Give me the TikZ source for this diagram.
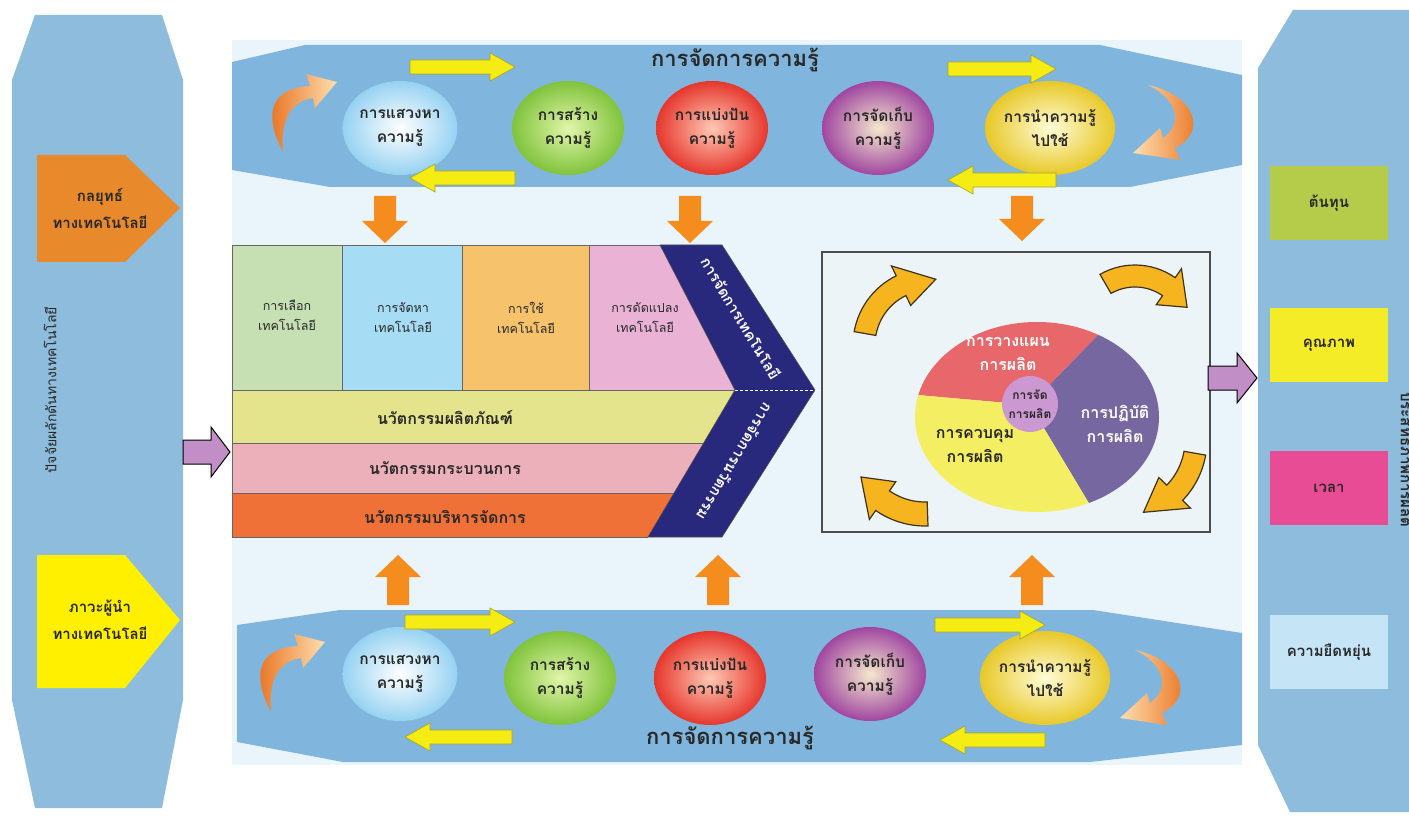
\documentclass[tikz,border=0pt]{standalone}
\usepackage{fontspec}
\newfontfamily\thaifont[Script=Thai]{Loma}
\usetikzlibrary{shapes.geometric,calc}

\definecolor{panelblue}{RGB}{142,188,221}
\definecolor{bandblue}{RGB}{128,182,221}
\definecolor{framebg}{RGB}{234,244,251}
\definecolor{txtdark}{RGB}{40,40,40}
\definecolor{strategyorange}{RGB}{232,137,43}
\definecolor{leaderyellow}{RGB}{255,240,0}
\definecolor{costgreen}{RGB}{181,204,74}
\definecolor{qualyellow}{RGB}{245,236,40}
\definecolor{timepink}{RGB}{232,76,148}
\definecolor{flexblue}{RGB}{197,228,246}
\definecolor{arrowyellow}{RGB}{245,236,20}
\definecolor{arrowyellowedge}{RGB}{170,160,40}
\definecolor{blockorange}{RGB}{245,140,30}
\definecolor{purplearrow}{RGB}{193,143,198}
\definecolor{navy}{RGB}{40,40,125}
\definecolor{selgreen}{RGB}{198,224,180}
\definecolor{acqblue}{RGB}{166,221,245}
\definecolor{useorange}{RGB}{246,195,108}
\definecolor{adaptpink}{RGB}{234,179,214}
\definecolor{prodrow}{RGB}{228,228,140}
\definecolor{procrow}{RGB}{236,176,186}
\definecolor{mgmtrow}{RGB}{240,113,56}
\definecolor{boxbg}{RGB}{237,244,247}
\definecolor{piered}{RGB}{232,103,106}
\definecolor{piepurple}{RGB}{118,103,160}
\definecolor{pieyellow}{RGB}{243,238,98}
\definecolor{piecenter}{RGB}{204,152,210}
\definecolor{turnfill}{RGB}{246,180,30}
\definecolor{turnedge}{RGB}{60,50,30}

\tikzset{
  kcircle/.style={ellipse, minimum width=112, minimum height=94, inner sep=0pt,
    align=center, text=txtdark, shading=radial,
    font=\thaifont\bfseries\fontsize{15.5}{24}\selectfont},
  yarrow/.style={fill=arrowyellow, draw=arrowyellowedge, line width=0.6},
  oarrow/.style={fill=blockorange},
  parrow/.style={fill=purplearrow, draw=black, line width=1},
  turn/.style={fill=turnfill, draw=turnedge, line width=1.2},
  techcell/.style={draw=black!60, line width=0.7},
  celltext/.style={align=center, text=txtdark, font=\thaifont\fontsize{12.5}{20}\selectfont},
  rowtext/.style={text=txtdark, font=\thaifont\bfseries\fontsize{16}{20}\selectfont},
  sidebox/.style={minimum width=118, minimum height=74, inner sep=0pt,
    text=txtdark, font=\thaifont\bfseries\fontsize{15}{20}\selectfont},
  pietext/.style={align=center, font=\thaifont\bfseries\fontsize{16}{24}\selectfont},
  title/.style={text=txtdark, font=\thaifont\bfseries\fontsize{22}{26}\selectfont}
}

% horizontal yellow arrows: x from, x to, y
\newcommand{\yelright}[3]{\filldraw[yarrow] (#1,{#3-7}) -- ({#2-25},{#3-7}) -- ({#2-25},{#3-14}) -- (#2,#3) -- ({#2-25},{#3+14}) -- ({#2-25},{#3+7}) -- (#1,{#3+7}) -- cycle;}
\newcommand{\yelleft}[3]{\filldraw[yarrow] (#2,{#3-7}) -- ({#1+25},{#3-7}) -- ({#1+25},{#3-14}) -- (#1,#3) -- ({#1+25},{#3+14}) -- ({#1+25},{#3+7}) -- (#2,{#3+7}) -- cycle;}
% vertical orange block arrows: x, tail y, head y
\newcommand{\orgdown}[3]{\fill[oarrow] ({#1-11},#2) -- ({#1+11},#2) -- ({#1+11},{#3-22}) -- ({#1+23},{#3-22}) -- (#1,#3) -- ({#1-23},{#3-22}) -- ({#1-11},{#3-22}) -- cycle;}
\newcommand{\orgup}[3]{\fill[oarrow] ({#1-11},#2) -- ({#1+11},#2) -- ({#1+11},{#3+22}) -- ({#1+23},{#3+22}) -- (#1,#3) -- ({#1-23},{#3+22}) -- ({#1-11},{#3+22}) -- cycle;}
% curved cycle arrow: cx, cy, inner r, outer r, start, end, tip angle
\newcommand{\turnarrow}[7]{\filldraw[turn]
  plot[variable=\t, domain=#5:#6, samples=16] ({#1+#4*cos(\t)},{#2+#4*sin(\t)})
  -- ({#1+(#4+11)*cos(#6)},{#2+(#4+11)*sin(#6)})
  -- ({#1+(#3+#4)/2*cos(#7)},{#2+(#3+#4)/2*sin(#7)})
  -- ({#1+(#3-11)*cos(#6)},{#2+(#3-11)*sin(#6)})
  -- plot[variable=\t, domain=#6:#5, samples=16] ({#1+#3*cos(\t)},{#2+#3*sin(\t)})
  -- cycle;}

\begin{document}
\begin{tikzpicture}[x=1pt,y=-1pt]
\useasboundingbox (0,0) rectangle (1409,821);
\fill[white] (0,0) rectangle (1409,821);

% ---------- left panel: driving factors ----------
\fill[panelblue] (35,15) -- (162,15) -- (183,80) -- (183,700) -- (162,808) -- (35,808) -- (12,700) -- (12,80) -- cycle;
\fill[strategyorange] (37,155) -- (125,155) -- (180,208) -- (125,262) -- (37,262) -- cycle;
\node[align=center, text=txtdark, font=\thaifont\bfseries\fontsize{15}{27}\selectfont] (strategy) at (100,208) {กลยุทธ์\\ทางเทคโนโลยี};
\fill[leaderyellow] (37,555) -- (125,555) -- (180,620) -- (125,688) -- (37,688) -- cycle;
\node[align=center, text=txtdark, font=\thaifont\bfseries\fontsize{15}{27}\selectfont] (leader) at (100,620) {ภาวะผู้นำ\\ทางเทคโนโลยี};
\node[rotate=90, text=txtdark, font=\thaifont\fontsize{14}{16}\selectfont] (drivers) at (50,390) {ปัจจัยผลักดันทางเทคโนโลยี};

% ---------- central frame ----------
\fill[framebg] (232,40) rectangle (1242,765);

% top knowledge band
\fill[bandblue] (232,62) -- (305,45) -- (1100,45) -- (1242,75) -- (1242,165) -- (1130,187) -- (330,187) -- (232,170) -- cycle;
% bottom knowledge band
\fill[bandblue] (237,625) -- (340,610) -- (1093,610) -- (1242,633) -- (1242,745) -- (1090,762) -- (343,762) -- (237,742) -- cycle;

% knowledge circles (top)
\node[kcircle, inner color=white, outer color={rgb,255:red,150;green,210;blue,242}] (ta) at (400,128) {การแสวงหา\\ความรู้};
\node[kcircle, inner color={rgb,255:red,225;green,245;blue,170}, outer color={rgb,255:red,128;green,195;blue,60}] (tb) at (568,128) {การสร้าง\\ความรู้};
\node[kcircle, inner color={rgb,255:red,255;green,200;blue,180}, outer color={rgb,255:red,230;green,55;blue,45}] (tc) at (712,128) {การแบ่งปัน\\ความรู้};
\node[kcircle, inner color={rgb,255:red,245;green,232;blue,205}, outer color={rgb,255:red,160;green,70;blue,160}] (td) at (878,128) {การจัดเก็บ\\ความรู้};
\node[kcircle, inner color={rgb,255:red,255;green,252;blue,215}, outer color={rgb,255:red,232;green,200;blue,40}] (te) at (1050,128) {การนำความรู้\\ไปใช้};
\node[title] (ttitle) at (735,60) {การจัดการความรู้};

% knowledge circles (bottom)
\node[kcircle, inner color=white, outer color={rgb,255:red,150;green,210;blue,242}] (ba) at (400,674) {การแสวงหา\\ความรู้};
\node[kcircle, inner color={rgb,255:red,225;green,245;blue,170}, outer color={rgb,255:red,128;green,195;blue,60}] (bb) at (560,678) {การสร้าง\\ความรู้};
\node[kcircle, inner color={rgb,255:red,255;green,200;blue,180}, outer color={rgb,255:red,230;green,55;blue,45}] (bc) at (710,678) {การแบ่งปัน\\ความรู้};
\node[kcircle, inner color={rgb,255:red,245;green,232;blue,205}, outer color={rgb,255:red,160;green,70;blue,160}] (bd) at (870,674) {การจัดเก็บ\\ความรู้};
\node[kcircle, inner color={rgb,255:red,255;green,252;blue,215}, outer color={rgb,255:red,232;green,200;blue,40}] (be) at (1045,678) {การนำความรู้\\ไปใช้};
\node[title] (btitle) at (730,738) {การจัดการความรู้};

% yellow flow arrows in the bands
\yelright{410}{515}{67}
\yelleft{410}{515}{178}
\yelright{948}{1056}{69}
\yelleft{948}{1056}{180}
\yelright{405}{515}{622}
\yelleft{405}{512}{737}
\yelright{935}{1045}{625}
\yelleft{940}{1045}{740}

% orange curved arrows at the band ends
\shade[left color={rgb,255:red,230;green,105;blue,20}, right color={rgb,255:red,255;green,222;blue,175}]
  (283,152) .. controls (262,112) and (272,88) .. (310,86) -- (306,74) -- (337,82) -- (315,108) -- (313,98) .. controls (290,101) and (280,122) .. (283,152) -- cycle;
\shade[right color={rgb,255:red,230;green,105;blue,20}, left color={rgb,255:red,255;green,222;blue,175}]
  (1148,85) .. controls (1195,95) and (1208,132) .. (1175,148) -- (1180,160) -- (1133,153) -- (1160,128) -- (1163,138) .. controls (1185,122) and (1175,98) .. (1148,85) -- cycle;
\begin{scope}[shift={(-12,560)}]
\shade[left color={rgb,255:red,230;green,105;blue,20}, right color={rgb,255:red,255;green,222;blue,175}]
  (283,152) .. controls (262,112) and (272,88) .. (310,86) -- (306,74) -- (337,82) -- (315,108) -- (313,98) .. controls (290,101) and (280,122) .. (283,152) -- cycle;
\end{scope}
\begin{scope}[shift={(-13,565)}]
\shade[right color={rgb,255:red,230;green,105;blue,20}, left color={rgb,255:red,255;green,222;blue,175}]
  (1148,85) .. controls (1195,95) and (1208,132) .. (1175,148) -- (1180,160) -- (1133,153) -- (1160,128) -- (1163,138) .. controls (1185,122) and (1175,98) .. (1148,85) -- cycle;
\end{scope}

% block arrows from the bands into the middle
\orgdown{385}{196}{243}
\orgdown{690}{196}{243}
\orgdown{1022}{196}{241}
\orgup{398}{605}{555}
\orgup{718}{605}{555}
\orgup{1032}{605}{555}

% ---------- technology / innovation chevron ----------
\begin{scope}
\clip (232,245) -- (660,245) -- (735,390) -- (648,537) -- (232,537) -- cycle;
\filldraw[techcell, fill=selgreen] (232,245) rectangle (342,390);
\filldraw[techcell, fill=acqblue] (342,245) rectangle (462,390);
\filldraw[techcell, fill=useorange] (462,245) rectangle (589,390);
\filldraw[techcell, fill=adaptpink] (589,245) rectangle (760,390);
\filldraw[techcell, fill=prodrow] (232,390) rectangle (760,443);
\filldraw[techcell, fill=procrow] (232,443) rectangle (760,493);
\filldraw[techcell, fill=mgmtrow] (232,493) rectangle (760,537);
\end{scope}
\draw[black!60, line width=0.7] (660,245) -- (232,245) -- (232,537) -- (648,537);
\filldraw[fill=navy, draw=black!70, line width=0.6] (660,245) -- (722,245) -- (815,390) -- (722,537) -- (648,537) -- (735,390) -- cycle;
\draw[white, densely dashed, line width=1] (735,390) -- (845,390);

\node[celltext] (sel) at (287,315) {การเลือก\\เทคโนโลยี};
\node[celltext] (acq) at (403,318) {การจัดหา\\เทคโนโลยี};
\node[celltext] (use) at (526,318) {การใช้\\เทคโนโลยี};
\node[celltext] (adapt) at (645,318) {การดัดแปลง\\เทคโนโลยี};
\node[rowtext] (prod) at (445,418) {นวัตกรรมผลิตภัณฑ์};
\node[rowtext] (proc) at (445,468) {นวัตกรรมกระบวนการ};
\node[rowtext] (mgmt) at (445,517) {นวัตกรรมบริหารจัดการ};
\node[rotate=-59, text=white, font=\thaifont\bfseries\fontsize{15}{18}\selectfont] (techmgmt) at (741,318) {การจัดการเทคโนโลยี};
\node[rotate=-121, text=white, font=\thaifont\bfseries\fontsize{15}{18}\selectfont] (innomgmt) at (735,462) {การจัดการนวัตกรรม};

% ---------- production management box ----------
\filldraw[fill=boxbg, draw=black!70, line width=1.2] (822,252) rectangle (1210,532);
\begin{scope}
\clip (1037,417) ellipse [x radius=122pt, y radius=95pt];
\fill[piered] (1030,405) -- (1186,245) -- (850,245) -- (850,389) -- cycle;
\fill[piepurple] (1030,405) -- (1186,245) -- (1210,245) -- (1210,560) -- (1123,560) -- cycle;
\fill[pieyellow] (1030,405) -- (1123,560) -- (850,560) -- (850,389) -- cycle;
\end{scope}
\node[circle, fill=piecenter, minimum size=56, inner sep=0pt, align=center, text=txtdark,
  font=\thaifont\bfseries\fontsize{12}{19}\selectfont] (core) at (1030,404) {การจัด\\การผลิต};
\node[pietext, text=white] (plan) at (1008,354) {การวางแผน\\การผลิต};
\node[pietext, text=white] (oper) at (1115,424) {การปฏิบัติ\\การผลิต};
\node[pietext, text=txtdark] (ctrl) at (975,446) {การควบคุม\\การผลิต};

% cycle arrows round the pie
\turnarrow{930}{345}{55}{77}{190}{244}{275}
\turnarrow{1135}{335}{48}{70}{240}{305}{332}
\turnarrow{1120}{440}{65}{87}{10}{44}{72}
\turnarrow{925}{440}{62}{86}{88}{125}{150}

% ---------- right panel: outcomes ----------
\fill[panelblue] (1293,10) -- (1409,10) -- (1409,812) -- (1290,812) -- (1258,745) -- (1258,68) -- cycle;
\node[sidebox, fill=costgreen] (cost) at (1329,203) {ต้นทุน};
\node[sidebox, fill=qualyellow] (quality) at (1329,345) {คุณภาพ};
\node[sidebox, fill=timepink] (time) at (1329,488) {เวลา};
\node[sidebox, fill=flexblue] (flex) at (1329,652) {ความยืดหยุ่น};
\node[rotate=-90, text=txtdark, font=\thaifont\bfseries\fontsize{15}{18}\selectfont] (outcome) at (1407,460) {ประสิทธิภาพการผลิต};

% input and output arrows
\filldraw[parrow] (183,440) -- (211,440) -- (211,427) -- (230,452) -- (211,477) -- (211,464) -- (183,464) -- cycle;
\filldraw[parrow] (1208,366) -- (1237,366) -- (1237,353) -- (1257,378) -- (1237,403) -- (1237,390) -- (1208,390) -- cycle;
\end{tikzpicture}
\end{document}
